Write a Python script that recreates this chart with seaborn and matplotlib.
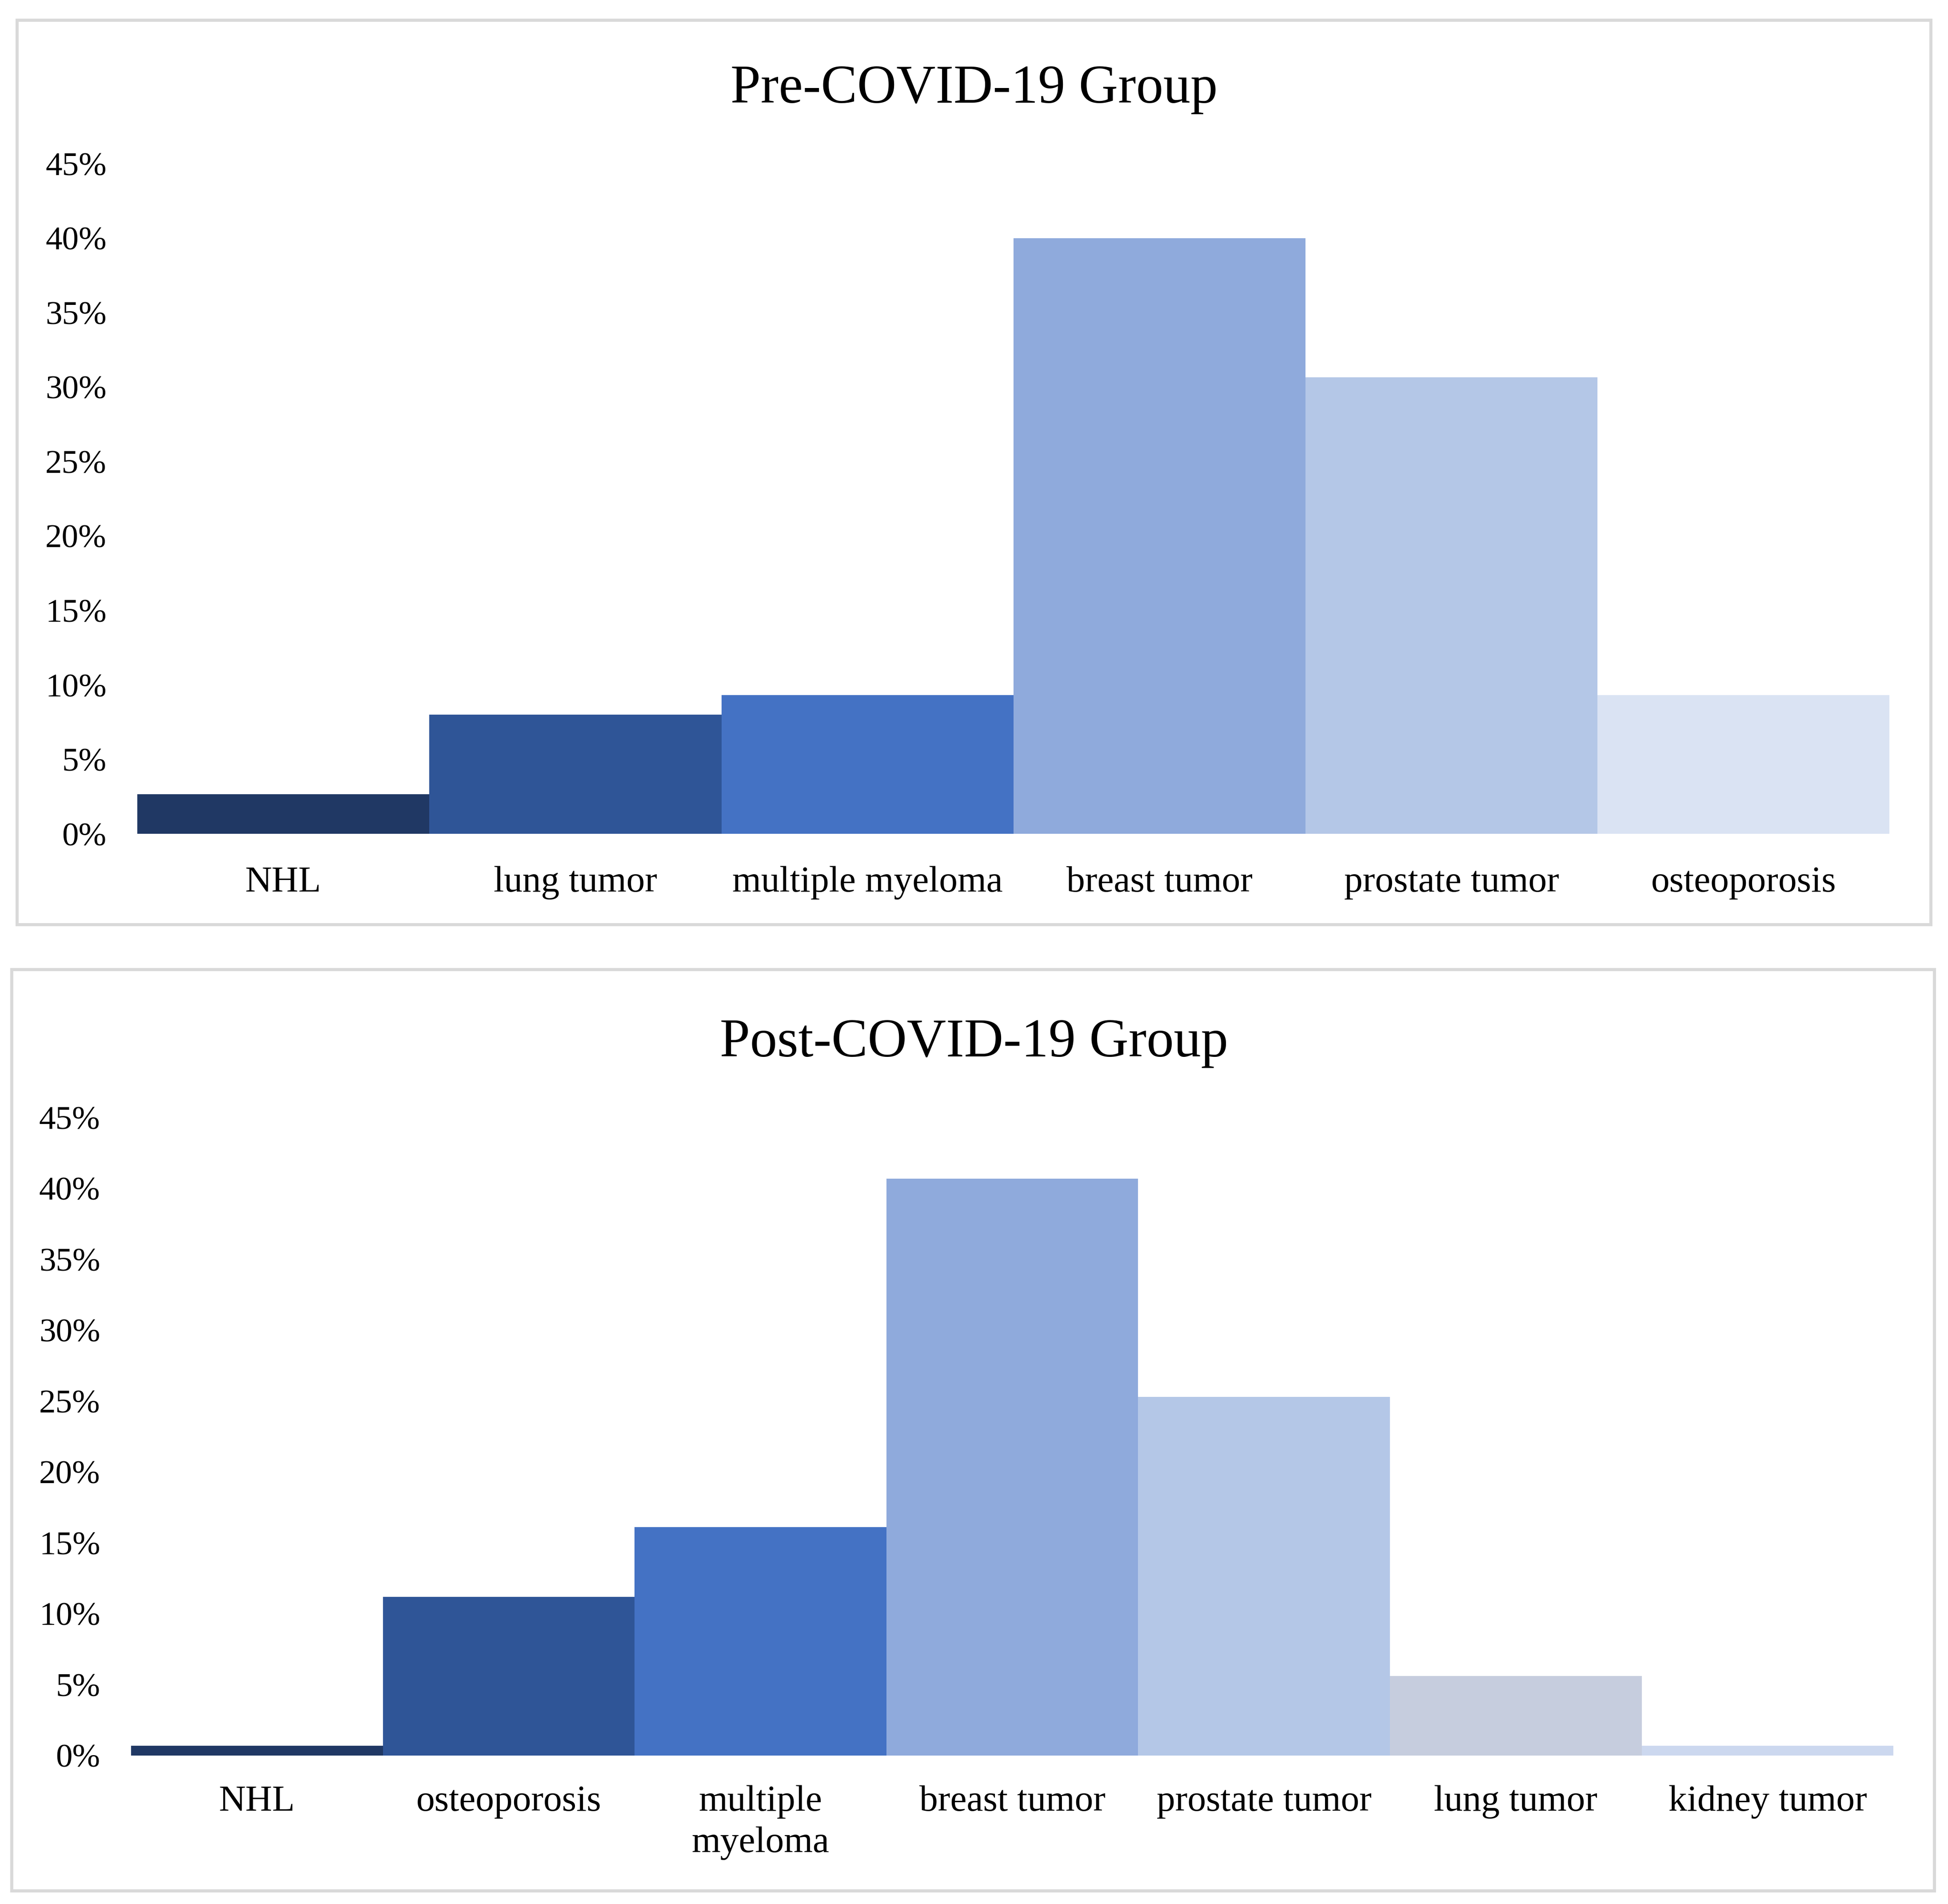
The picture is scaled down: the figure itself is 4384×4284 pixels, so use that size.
import pandas as pd
import matplotlib
matplotlib.use("Agg")
import matplotlib.pyplot as plt
import seaborn as sns
from matplotlib.patches import Rectangle
from matplotlib.ticker import FuncFormatter

# data (percent of patients)
pre_categories = ["NHL", "lung tumor", "multiple myeloma", "breast tumor",
                  "prostate tumor", "osteoporosis"]
pre_values = [2.67, 8.0, 9.33, 40.0, 30.67, 9.33]
pre_colors = ["#203864", "#2F5597", "#4472C4", "#8FAADC", "#B4C7E7", "#DAE3F3"]

post_categories = ["NHL", "osteoporosis", "multiple\nmyeloma", "breast tumor",
                   "prostate tumor", "lung tumor", "kidney tumor"]
post_values = [0.7, 11.2, 16.1, 40.7, 25.3, 5.6, 0.7]
post_colors = ["#203864", "#2F5597", "#4472C4", "#8FAADC", "#B4C7E7",
               "#C6CDDE", "#CCD8EF"]

y_ticks = [0, 5, 10, 15, 20, 25, 30, 35, 40, 45]

sns.set_theme(style="white")
plt.rcParams['font.family'] = ['Liberation Serif', 'DejaVu Serif']
plt.rcParams['text.color'] = 'black'
plt.rcParams['xtick.color'] = 'black'
plt.rcParams['ytick.color'] = 'black'

fig = plt.figure(figsize=(43.84, 42.84), dpi=100)
fig.patch.set_facecolor("white")

# panel frames
for (x0, y0, x1, y1) in [(0.0087, 0.5145, 0.991, 0.9895), (0.006, 0.007, 0.993, 0.491)]:
    fig.patches.append(Rectangle((x0, y0), x1 - x0, y1 - y0, transform=fig.transFigure,
                                 fill=False, edgecolor="#D9D9D9", linewidth=5, zorder=0))


def draw(ax, cats, vals, colors, title, title_y, xpad):
    df = pd.DataFrame({"cat": cats, "val": vals})
    sns.barplot(data=df, x="cat", y="val", hue="cat", palette=colors, order=cats,
                hue_order=cats, width=1.0, saturation=1, legend=False, ax=ax,
                edgecolor="none", linewidth=0)
    ax.set_xlim(-0.5, len(cats) - 0.5)
    ax.set_ylim(0, 45)
    ax.set_yticks(y_ticks)
    ax.yaxis.set_major_formatter(FuncFormatter(lambda v, p: f"{int(v)}%"))
    ax.tick_params(axis="y", length=0, pad=50, labelsize=54, labelcolor="black")
    ax.tick_params(axis="x", length=0, pad=xpad, labelsize=60, labelcolor="black")
    for lbl in ax.get_xticklabels():
        lbl.set_linespacing(1.3)
    ax.set_xlabel("")
    ax.set_ylabel("")
    for s in ax.spines.values():
        s.set_visible(False)
    ax.grid(False)
    fig.text(0.5, title_y, title, ha="center", va="center", fontsize=88, color="black")


ax1 = fig.add_axes([0.0705, 0.562, 0.8995, 0.352])
draw(ax1, pre_categories, pre_values, pre_colors, "Pre-COVID-19 Group", 0.953, 52)

ax2 = fig.add_axes([0.0673, 0.078, 0.9047, 0.335])
draw(ax2, post_categories, post_values, post_colors, "Post-COVID-19 Group", 0.452, 48)

plt.savefig("out.png", dpi=100, facecolor="white")
